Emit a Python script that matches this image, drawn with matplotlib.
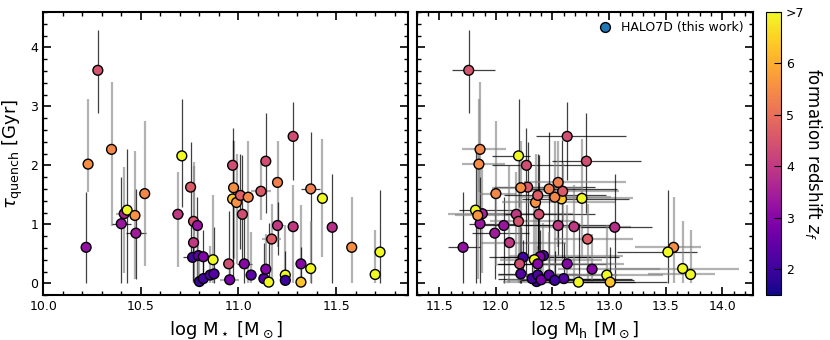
import numpy as np
import matplotlib
matplotlib.use('Agg')
import matplotlib.pyplot as plt
from matplotlib.ticker import MultipleLocator

# stellar mass, halo mass, quenching time, formation redshift
log_mstar = [10.28, 10.23, 10.22, 10.35, 10.40, 10.415, 10.43, 10.47, 10.475, 10.52,
             10.71, 10.69, 10.755, 10.77, 10.79, 10.77, 10.765, 10.795, 10.82, 10.80,
             10.82, 10.855, 10.875, 10.87, 10.95, 10.955, 10.97, 10.975, 10.97, 10.99,
             11.01, 11.05, 11.02, 11.115, 11.14, 11.20, 11.20, 11.17, 11.28, 11.28,
             11.37, 11.43, 11.48, 11.58, 11.725, 11.70, 11.03, 11.065, 11.13, 11.14,
             11.155, 11.24, 11.24, 11.32, 11.32, 11.37]
log_mhalo = [11.76, 11.85, 11.71, 11.86, 11.86, 11.88, 11.82, 11.84, 11.99, 12.00,
             12.20, 12.18, 12.28, 12.20, 12.07, 12.12, 12.24, 12.42, 12.39, 12.36,
             12.32, 12.37, 12.22, 12.34, 12.21, 12.40, 12.27, 12.22, 12.58, 12.35,
             12.37, 12.52, 12.38, 12.59, 12.80, 12.55, 12.55, 12.81, 12.63, 12.69,
             12.47, 12.76, 13.05, 13.57, 13.52, 13.72, 12.37, 12.47, 12.60, 12.85,
             12.73, 12.98, 12.52, 12.63, 13.01, 13.65]
tau_quench = [3.61, 2.02, 0.61, 2.27, 1.01, 1.18, 1.24, 1.15, 0.85, 1.52,
              2.16, 1.17, 1.63, 1.05, 0.98, 0.69, 0.44, 0.47, 0.45, 0.03,
              0.08, 0.14, 0.16, 0.40, 0.33, 0.06, 2.00, 1.62, 1.43, 1.37,
              1.49, 1.46, 1.17, 1.56, 2.07, 1.71, 0.98, 0.75, 2.49, 0.96,
              1.60, 1.44, 0.95, 0.61, 0.53, 0.15, 0.33, 0.14, 0.08, 0.24,
              0.02, 0.14, 0.05, 0.33, 0.02, 0.25]
z_form = [4.5, 5.5, 3.2, 5.4, 3.3, 3.6, 7.5, 5.6, 3.4, 5.4,
          7.5, 4.0, 4.6, 4.5, 3.3, 4.0, 2.1, 2.4, 2.9, 2.0,
          2.1, 2.2, 2.3, 7.5, 4.4, 2.8, 4.4, 5.5, 6.3, 5.6,
          4.7, 5.4, 4.4, 4.6, 4.4, 5.3, 4.0, 4.7, 4.4, 4.0,
          5.3, 7.5, 3.8, 5.5, 7.5, 7.5, 3.0, 2.4, 2.3, 3.0,
          7.5, 7.5, 2.0, 3.0, 6.3, 7.5]

# uncertainties
tau_lo = [0.73, 0.47, 0.61, 1.30, 1.01, 1.01, 1.24, 1.07, 0.77, 1.23,
          0.87, 0.89, 1.20, 1.05, 0.98, 0.69, 0.40, 0.47, 0.45, 0.03,
          0.08, 0.14, 0.16, 0.40, 0.33, 0.06, 1.90, 1.20, 1.00, 1.04,
          0.90, 1.46, 0.90, 0.49, 0.88, 1.09, 0.50, 0.75, 0.74, 0.96,
          1.60, 1.00, 0.95, 0.61, 0.53, 0.15, 0.33, 0.14, 0.08, 0.24,
          0.02, 0.14, 0.05, 0.33, 0.02, 0.25]
tau_hi = [0.69, 1.11, 0.94, 1.14, 0.79, 0.79, 1.03, 1.09, 0.75, 1.23,
          0.96, 0.72, 0.77, 1.01, 0.48, 1.30, 0.30, 0.55, 0.45, 0.35,
          0.40, 0.50, 0.80, 1.10, 0.90, 0.30, 0.63, 0.80, 1.00, 0.83,
          0.70, 0.95, 1.00, 0.48, 0.81, 0.71, 0.40, 0.60, 0.59, 0.70,
          0.97, 1.00, 0.91, 0.85, 1.05, 0.75, 0.90, 0.73, 0.60, 0.60,
          1.00, 0.85, 0.50, 1.00, 0.60, 0.80]
mstar_err = [0.02, 0.02, 0.02, 0.02, 0.05, 0.04, 0.02, 0.02, 0.05, 0.02,
             0.02, 0.03, 0.02, 0.02, 0.02, 0.02, 0.05, 0.02, 0.02, 0.02,
             0.02, 0.02, 0.02, 0.02, 0.02, 0.05, 0.02, 0.02, 0.02, 0.03,
             0.02, 0.02, 0.02, 0.05, 0.02, 0.02, 0.03, 0.05, 0.02, 0.02,
             0.05, 0.02, 0.02, 0.02, 0.02, 0.02, 0.04, 0.02, 0.02, 0.02,
             0.02, 0.02, 0.02, 0.02, 0.02, 0.02]
mhalo_lo = [0.15, 0.15, 0.13, 0.16, 0.10, 0.30, 0.15, 0.20, 0.20, 0.14,
            0.23, 0.30, 0.30, 0.25, 0.20, 0.25, 0.30, 0.30, 0.35, 0.30,
            0.30, 0.35, 0.20, 0.30, 0.20, 0.30, 0.30, 0.25, 0.35, 0.30,
            0.30, 0.30, 0.30, 0.30, 0.30, 0.30, 0.30, 0.30, 0.28, 0.30,
            0.30, 0.30, 0.30, 0.34, 0.45, 0.38, 0.35, 0.30, 0.30, 0.30,
            0.40, 0.50, 0.30, 0.30, 0.30, 0.60]
mhalo_hi = [0.23, 0.23, 0.15, 0.23, 0.30, 0.30, 0.36, 0.30, 0.30, 0.18,
            0.10, 0.50, 0.60, 0.50, 0.40, 0.50, 0.60, 0.70, 0.70, 0.60,
            0.60, 0.50, 0.50, 0.60, 0.40, 0.60, 0.50, 0.55, 0.60, 0.70,
            0.60, 0.50, 0.50, 0.50, 0.48, 0.60, 0.50, 0.40, 0.52, 0.50,
            0.60, 0.45, 0.33, 0.24, 0.26, 0.22, 0.60, 0.60, 0.60, 0.60,
            0.50, 0.50, 0.70, 0.50, 0.50, 0.50]

cmap = plt.get_cmap('plasma')
norm = plt.Normalize(1.5, 7)

fig = plt.figure(figsize=(8.3, 3.4), dpi=100)
ax1 = fig.add_axes([0.052, 0.132, 0.440, 0.833])
ax2 = fig.add_axes([0.502, 0.132, 0.405, 0.833], sharey=ax1)
cax = fig.add_axes([0.923, 0.132, 0.018, 0.833])

tau = np.array(tau_quench)
yerr = np.array([tau_lo, tau_hi])
xerr_h = np.array([mhalo_lo, mhalo_hi])

for i in range(len(tau)):
    if i % 2 == 0:
        ec, lw, a = 'k', 0.9, 0.75
    else:
        ec, lw, a = 'gray', 1.6, 0.6
    ax1.errorbar(log_mstar[i], tau[i], xerr=mstar_err[i], yerr=yerr[:, i:i + 1],
                 fmt='none', ecolor=ec, elinewidth=lw, alpha=a, zorder=1)
    ax2.errorbar(log_mhalo[i], tau[i], xerr=xerr_h[:, i:i + 1], yerr=yerr[:, i:i + 1],
                 fmt='none', ecolor=ec, elinewidth=lw, alpha=a, zorder=1)

sc = ax1.scatter(log_mstar, tau, c=z_form, cmap=cmap, norm=norm, s=50,
                 edgecolors='k', linewidths=1, zorder=3)
ax2.scatter(log_mhalo, tau, c=z_form, cmap=cmap, norm=norm, s=50,
            edgecolors='k', linewidths=1, zorder=3)
ax2.scatter([], [], color='#1f77b4', s=50, edgecolors='k', linewidths=1,
            label='HALO7D (this work)')
ax2.legend(loc='upper right', frameon=False, fontsize=9, handletextpad=0.3,
           borderaxespad=0.3)

ax1.set_xlim(10.0, 11.87)
ax2.set_xlim(11.3, 14.27)
ax1.set_ylim(-0.2, 4.6)
ax1.set_xticks([10.0, 10.5, 11.0, 11.5])
ax2.set_xticks([11.5, 12.0, 12.5, 13.0, 13.5, 14.0])

for ax in (ax1, ax2):
    ax.xaxis.set_minor_locator(MultipleLocator(0.1))
    ax.yaxis.set_minor_locator(MultipleLocator(0.2))
    ax.yaxis.set_major_locator(MultipleLocator(1))
    ax.tick_params(which='both', direction='in', top=True, right=True, labelsize=9)
    ax.tick_params(which='major', length=6, width=1.2)
    ax.tick_params(which='minor', length=3, width=1)
    for s in ax.spines.values():
        s.set_linewidth(1.5)
ax2.tick_params(labelleft=False)

ax1.set_xlabel(r'log M$_\star$ [M$_\odot$]', fontsize=13)
ax2.set_xlabel(r'log M$_{\rm h}$ [M$_\odot$]', fontsize=13)
ax1.set_ylabel(r'$\tau_{\rm quench}$ [Gyr]', fontsize=13)

cb = fig.colorbar(sc, cax=cax)
cb.set_ticks([2, 3, 4, 5, 6, 7])
cb.set_ticklabels(['2', '3', '4', '5', '6', '>7'])
cb.ax.tick_params(direction='in', length=5, labelsize=9)
cb.set_label(r'formation redshift $z_f$', rotation=270, labelpad=14, fontsize=12)

fig.savefig('out.png', dpi=100)
